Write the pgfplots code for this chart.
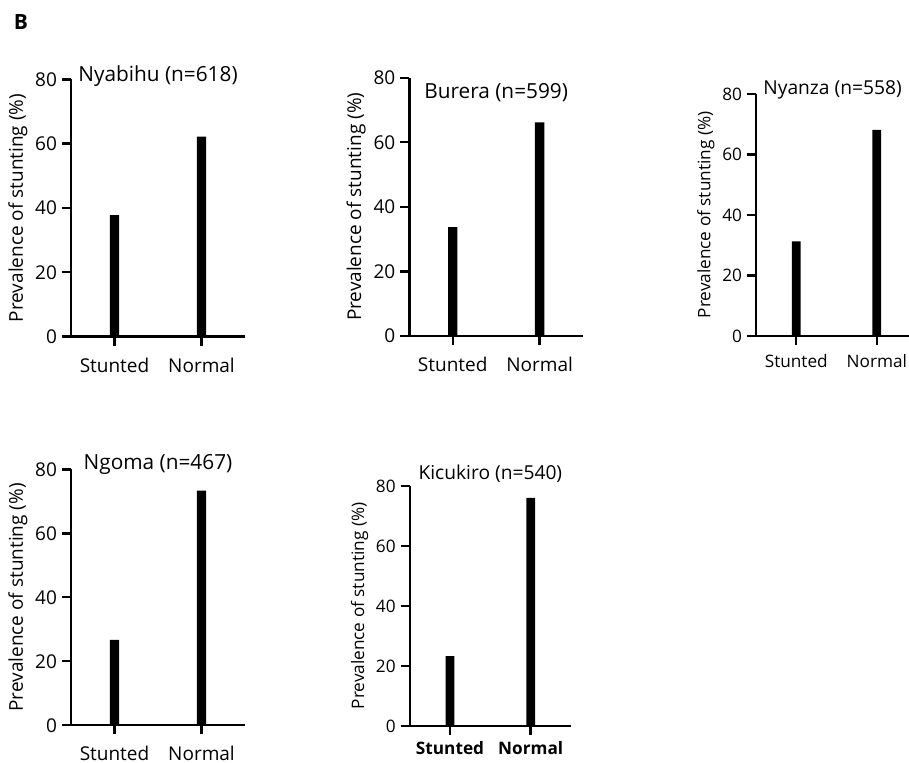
\documentclass[border=0pt]{standalone}
\usepackage{pgfplots}
\pgfplotsset{compat=1.18}
\usepackage{fontspec}
\setmainfont{Open Sans}
\newcommand{\fA}{\fontsize{9.5}{11}\selectfont}
\newcommand{\fB}{\fontsize{8.6}{10}\selectfont}
\newcommand{\fT}{\fontsize{10.4}{12}\selectfont}
\newcommand{\fTs}{\fontsize{9.6}{11}\selectfont}
\pgfplotsset{
  every axis title shift=0pt,
  panel/.style={
    scale only axis, anchor=south west, clip=false,
    axis x line*=bottom, axis y line*=left,
    ymin=0, ymax=80, ytick={0,20,40,60,80},
    xmin=-0.5, xmax=1.5, xtick={0,1}, xticklabels={Stunted,Normal},
    tick align=outside, major tick length=4.5pt,
    ybar, bar width=4.7pt,
    axis line style={line width=1.2pt, black},
    tick style={line width=1.2pt, black},
    ylabel={Prevalence of stunting (\%)},
    /pgf/number format/assume math mode=true,
    tick label style={black, font=\fA},
    label style={font=\fA},
    title style={at={(0.5,1)}, anchor=center, font=\fT},
    yticklabel style={xshift=1pt},
    xticklabel style={yshift=-2.5pt},
    ylabel style={yshift=-3pt},
  },
  small/.style={tick label style={font=\fB}, label style={font=\fB}, title style={font=\fTs},
    xticklabel style={yshift=1.2pt}},
  bars/.style={fill=black, draw=none},
}
\begin{document}
\begin{tikzpicture}
\path[use as bounding box] (0,0) rectangle (454.5pt,381.5pt);
\node[font=\bfseries\fontsize{10.5}{12}\selectfont, anchor=center] at (10.5pt,370.5pt) {B};

% Nyabihu
\begin{axis}[panel, at={(35.5pt,213.2pt)}, width=87pt, height=128.6pt,
  title={Nyabihu (n=618)}, title style={yshift=1.7pt}]
\addplot[bars] coordinates {(0,37.8) (1,62.2)};
\end{axis}

% Burera
\begin{axis}[panel, at={(204.65pt,213.5pt)}, width=86.85pt, height=129.15pt,
  title={Burera (n=599)}, title style={yshift=-7.5pt}]
\addplot[bars] coordinates {(0,33.7) (1,66.2)};
\end{axis}

% Nyanza
\begin{axis}[panel, small, at={(378pt,213.5pt)}, width=76.5pt, height=121pt,
  xmax=1.4, bar width=4.4pt,
  title={Nyanza (n=558)}, title style={yshift=2.25pt}]
\addplot[bars] coordinates {(0,31.3) (1,68.1)};
\end{axis}

% Ngoma
\begin{axis}[panel, at={(35.5pt,18.85pt)}, width=87pt, height=128pt,
  title={Ngoma (n=467)}, title style={yshift=2.25pt}]
\addplot[bars] coordinates {(0,26.7) (1,73.3)};
\end{axis}

% Kicukiro
\begin{axis}[panel, small, at={(204.85pt,18.5pt)}, width=80.65pt, height=120pt,
  bar width=4.4pt,
  xticklabel style={font=\fB\bfseries, yshift=1.5pt},
  title={Kicukiro (n=540)}, title style={yshift=6.2pt}]
\addplot[bars] coordinates {(0,23.3) (1,76.0)};
\end{axis}
\end{tikzpicture}
\end{document}
